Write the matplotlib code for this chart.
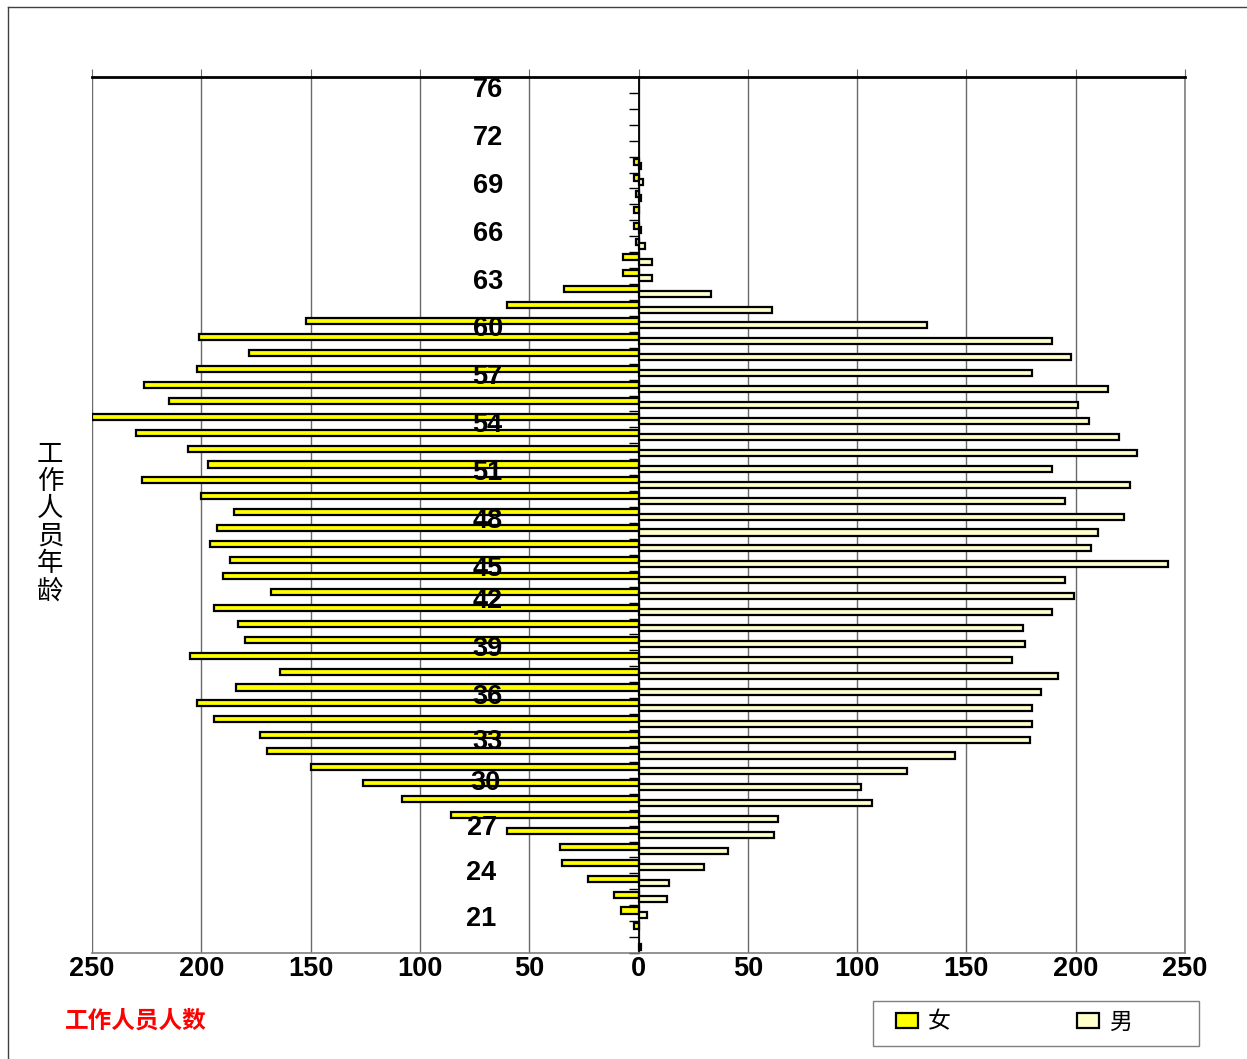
import matplotlib.pyplot as plt
from matplotlib.patches import Rectangle
from matplotlib.lines import Line2D

plt.rcParams['font.family'] = ['Liberation Sans', 'Noto Sans CJK SC', 'DejaVu Sans']

# ages from top (76) down to bottom (22)
ages = list(range(76, 21, -1))
female = [0, 0, 0, 0, 0, 2, 2, 1, 2, 2,
          1, 7, 7, 34, 60, 152, 201, 178, 202, 226,
          215, 250, 230, 206, 197, 227, 200, 185, 193, 196,
          187, 190, 168, 194, 183, 180, 205, 164, 184, 202,
          194, 173, 170, 150, 126, 108, 86, 60, 36, 35,
          23, 11, 8, 2, 0]
male = [0, 0, 0, 0, 0, 1, 2, 1, 0, 1,
        3, 6, 6, 33, 61, 132, 189, 198, 180, 215,
        201, 206, 220, 228, 189, 225, 195, 222, 210, 207,
        242, 195, 199, 189, 176, 177, 171, 192, 184, 180,
        180, 179, 145, 123, 102, 107, 64, 62, 41, 30,
        14, 13, 4, 0, 1]

# age labels as they sit on the original chart
age_labels = ['76', '72', '69', '66', '63', '60', '57', '54', '51', '48',
              '45', '42', '39', '36', '33', '30', '27', '24', '21']
label_pos = [75.81, 72.80, 69.78, 66.77, 63.76, 60.81, 57.79, 54.78, 51.77, 48.75,
             45.74, 43.73, 40.72, 37.71, 34.88, 32.31, 29.48, 26.66, 23.77]
label_x = [-69] * 15 + [-70, -71.5, -72, -72]

x_ticks = list(range(-250, 251, 50))

W, H = 1247, 1059
fig = plt.figure(figsize=(W / 100, H / 100), dpi=100)
ax = fig.add_axes([92 / W, 1 - 953 / H, (1185 - 92) / W, (953 - 77) / H])

yf = [a + 0.17 for a, v in zip(ages, female) if v > 0]
vf = [-v for v in female if v > 0]
ym = [a - 0.1 for a, v in zip(ages, male) if v > 0]
vm = [v for v in male if v > 0]
bf = ax.barh(yf, vf, height=0.38, color='#FFFF00', edgecolor='black', linewidth=1.6, zorder=3)
bm = ax.barh(ym, vm, height=0.38, color='#FFFFCC', edgecolor='black', linewidth=1.6, zorder=3)

ax.set_xlim(-250, 250)
ax.set_ylim(21.5, 76.5)

# axes lines
ax.spines['left'].set_position(('data', 0))
ax.spines['left'].set_color('black')
ax.spines['left'].set_linewidth(1.3)
ax.spines['top'].set_color('black')
ax.spines['top'].set_linewidth(2)
ax.spines['bottom'].set_color('#808080')
ax.spines['right'].set_color('#808080')
ax.spines['bottom'].set_linewidth(1.2)
ax.spines['right'].set_linewidth(1.2)

ax.xaxis.grid(True, color='#6a6a6a', linewidth=1)
ax.set_axisbelow(True)

ax.set_yticks([a + 0.5 for a in range(21, 76)])
ax.tick_params(axis='y', length=7, width=1, color='black', direction='out', labelleft=False)

ax.set_xticks(x_ticks)
ax.set_xticklabels([str(abs(v)) for v in x_ticks], fontsize=19.5, fontweight='bold')
ax.tick_params(axis='x', top=True, bottom=False, labeltop=False, labelbottom=True,
               direction='out', length=6, color='#6a6a6a', pad=-4)

for lab, pos, lx in zip(age_labels, label_pos, label_x):
    ax.text(lx, pos - 0.15, lab, ha='center', va='center', fontsize=19.5,
            fontweight='bold', zorder=5)

# titles
for i, ch in enumerate('工作人员年龄'):
    fig.text(50 / W, 1 - (454 + 27.4 * i) / H, ch, ha='center', va='center',
             fontsize=19, family=['Noto Sans CJK SC', 'DejaVu Sans'])
fig.text(65 / W, 1 - 1021 / H, '工作人员人数', color='red', fontsize=17,
         fontweight='bold', ha='left', va='center', family=['Noto Sans CJK SC', 'DejaVu Sans'])

# outer chart frame
fig.add_artist(Line2D([8 / W, 1], [1 - 7 / H, 1 - 7 / H], color='#404040', lw=1,
                      transform=fig.transFigure))
fig.add_artist(Line2D([8 / W, 8 / W], [0, 1 - 7 / H], color='#404040', lw=1,
                      transform=fig.transFigure))

# legend
fig.add_artist(Rectangle((873 / W, 1 - 1046 / H), (1199 - 873) / W, (1046 - 1001) / H,
                         transform=fig.transFigure, fill=False, edgecolor='#808080', lw=1))
fig.legend([bf, bm], ['女', '男'], loc='center left', bbox_to_anchor=(896 / W, 1 - 1022 / H),
           ncol=2, frameon=False, prop={'family': ['Noto Sans CJK SC'], 'size': 16.5},
           handlelength=0.95, handleheight=0.65, handletextpad=0.45, columnspacing=5.5,
           borderpad=0, borderaxespad=0)

fig.savefig('out.png', dpi=100)
